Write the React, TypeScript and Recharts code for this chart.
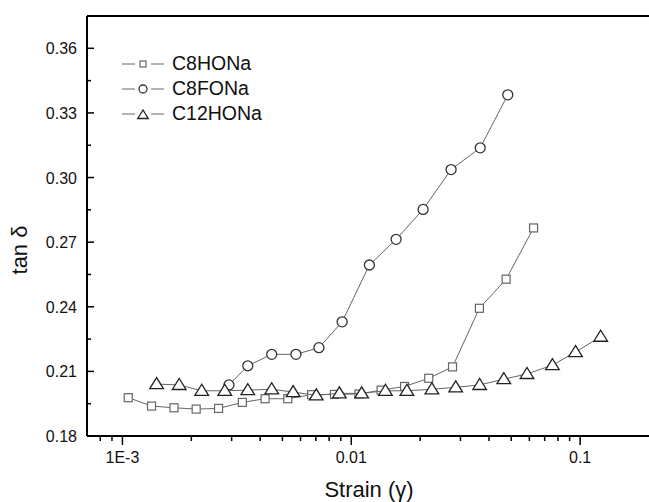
import { ReferenceLine, Scatter, ScatterChart, XAxis, YAxis } from "recharts";

// strain (γ) and tan δ
const c8hStrain = [0.00106, 0.00134, 0.00168, 0.0021, 0.00263, 0.00334, 0.0042, 0.00528, 0.00671, 0.00844, 0.0108, 0.0135, 0.0171, 0.0218, 0.0277, 0.0363, 0.0475, 0.0626];
const c8hTan = [0.1978, 0.1939, 0.1931, 0.1925, 0.1928, 0.1956, 0.1973, 0.1973, 0.1992, 0.1993, 0.1995, 0.2013, 0.203, 0.2068, 0.2121, 0.2393, 0.2528, 0.2766];

const c8fStrain = [0.00292, 0.00353, 0.00449, 0.00573, 0.00722, 0.00912, 0.012, 0.0157, 0.0206, 0.0273, 0.0366, 0.0483];
const c8fTan = [0.2037, 0.2126, 0.2179, 0.2179, 0.221, 0.233, 0.2594, 0.2713, 0.2852, 0.3037, 0.3138, 0.3384];

const c12Strain = [0.00141, 0.00177, 0.00222, 0.0028, 0.00353, 0.00449, 0.00557, 0.00703, 0.00887, 0.0111, 0.0141, 0.0175, 0.0225, 0.0286, 0.0364, 0.0464, 0.0586, 0.0757, 0.0955, 0.123];
const c12Tan = [0.2041, 0.2037, 0.201, 0.201, 0.2013, 0.2017, 0.2004, 0.1989, 0.1998, 0.1998, 0.201, 0.201, 0.2017, 0.2026, 0.2037, 0.2064, 0.2088, 0.2129, 0.219, 0.2261];

const xMajor = [0.001, 0.01, 0.1];
const xLabels = ["1E-3", "0.01", "0.1"];
const xTicks = [0.0008, 0.0009, 0.001, 0.002, 0.003, 0.004, 0.005, 0.006, 0.007, 0.008, 0.009, 0.01, 0.02, 0.03, 0.04, 0.05, 0.06, 0.07, 0.08, 0.09, 0.1];
const yMajor = [0.18, 0.21, 0.24, 0.27, 0.3, 0.33, 0.36];
const yTicks = [0.18, 0.195, 0.21, 0.225, 0.24, 0.255, 0.27, 0.285, 0.3, 0.315, 0.33, 0.345, 0.36];

const seriesNames = ["C8HONa", "C8FONa", "C12HONa"];

const zip = (xs: number[], ys: number[]) => xs.map((x, i) => ({ x, y: ys[i] }));
const c8hData = zip(c8hStrain, c8hTan);
const c8fData = zip(c8fStrain, c8fTan);
const c12Data = zip(c12Strain, c12Tan);

const FONT = "'Liberation Sans', Arial, sans-serif";
const LINE = "#666";

const Square = ({ cx, cy, s = 8 }: any) => (
  <rect x={cx - s / 2} y={cy - s / 2} width={s} height={s} fill="#fff" stroke="#666" strokeWidth={1.2} />
);
const Circle = ({ cx, cy, r = 5 }: any) => (
  <circle cx={cx} cy={cy} r={r} fill="#fff" stroke="#333" strokeWidth={1.3} />
);
const Triangle = ({ cx, cy, s = 6.5 }: any) => (
  <polygon
    points={`${cx},${cy - s} ${cx - s * 1.05},${cy + s * 0.7} ${cx + s * 1.05},${cy + s * 0.7}`}
    fill="#fff"
    stroke="#222"
    strokeWidth={1.3}
  />
);

const XTick = ({ x, y, payload }: any) => {
  const i = xMajor.findIndex((v) => Math.abs(v - payload.value) < 1e-9);
  const major = i >= 0;
  return (
    <g>
      <line x1={x} x2={x} y1={y} y2={y + (major ? 9 : 5)} stroke="#000" strokeWidth={1.5} />
      {major && (
        <text x={x} y={y + 27} textAnchor="middle" fontSize={16} fontFamily={FONT} fill="#111">
          {xLabels[i]}
        </text>
      )}
    </g>
  );
};

const YTick = ({ x, y, payload }: any) => {
  const major = yMajor.some((v) => Math.abs(v - payload.value) < 1e-9);
  return (
    <g>
      <line x1={x} x2={x + (major ? 7 : 4)} y1={y} y2={y} stroke="#000" strokeWidth={1.5} />
      {major && (
        <text x={x - 10} y={y + 6} textAnchor="end" fontSize={16} fontFamily={FONT} fill="#111">
          {payload.value.toFixed(2)}
        </text>
      )}
    </g>
  );
};

const legendMarkers = [
  <Square cx={21} cy={9} s={6} />,
  <Circle cx={21} cy={9} r={4} />,
  <Triangle cx={21} cy={10} s={5} />,
];

export default function App() {
  return (
    <div style={{ position: "relative", width: 649, height: 502, background: "#fff" }}>
      <style>{"body{margin:0}"}</style>
      <ScatterChart width={649} height={502} margin={{ top: 16, right: 0, bottom: 0, left: 0 }}>
        <XAxis
          dataKey="x"
          type="number"
          scale="log"
          domain={[0.0007, 0.2]}
          allowDataOverflow
          ticks={xTicks}
          tick={<XTick />}
          tickLine={false}
          tickSize={0}
          tickMargin={0}
          axisLine={{ stroke: "#000", strokeWidth: 2 }}
          height={66}
          interval={0}
        />
        <YAxis
          dataKey="y"
          type="number"
          domain={[0.18, 0.375]}
          allowDataOverflow
          ticks={yTicks}
          tick={<YTick />}
          tickLine={false}
          tickSize={0}
          tickMargin={0}
          axisLine={{ stroke: "#000", strokeWidth: 2 }}
          width={87}
          interval={0}
        />
        <ReferenceLine y={0.375} stroke="#000" strokeWidth={2} ifOverflow="visible" />
        <Scatter
          name={seriesNames[0]}
          data={c8hData}
          line={{ stroke: LINE, strokeWidth: 1 }}
          lineType="joint"
          shape={(p: any) => <Square cx={p.cx} cy={p.cy} />}
          isAnimationActive={false}
        />
        <Scatter
          name={seriesNames[1]}
          data={c8fData}
          line={{ stroke: LINE, strokeWidth: 1 }}
          lineType="joint"
          shape={(p: any) => <Circle cx={p.cx} cy={p.cy} />}
          isAnimationActive={false}
        />
        <Scatter
          name={seriesNames[2]}
          data={c12Data}
          line={{ stroke: LINE, strokeWidth: 1 }}
          lineType="joint"
          shape={(p: any) => <Triangle cx={p.cx} cy={p.cy} />}
          isAnimationActive={false}
        />
      </ScatterChart>

      {/* legend in the upper-left corner of the plot */}
      <div style={{ position: "absolute", left: 122, top: 51, fontFamily: FONT, fontSize: 19.5, color: "#111" }}>
        {seriesNames.map((name, i) => (
          <div key={name} style={{ display: "flex", alignItems: "center", height: 25 }}>
            <svg width={44} height={18} style={{ marginRight: 6 }}>
              <line x1={0} x2={13} y1={9} y2={9} stroke={LINE} strokeWidth={1} />
              <line x1={29} x2={42} y1={9} y2={9} stroke={LINE} strokeWidth={1} />
              {legendMarkers[i]}
            </svg>
            <span>{name}</span>
          </div>
        ))}
      </div>

      {/* axis titles */}
      <div
        style={{
          position: "absolute",
          left: 20,
          top: 250,
          transform: "translate(-50%, -50%) rotate(-90deg)",
          fontFamily: FONT,
          fontSize: 22,
          whiteSpace: "nowrap",
          color: "#111",
        }}
      >
        tan δ
      </div>
      <div
        style={{
          position: "absolute",
          left: 369,
          top: 490,
          transform: "translate(-50%, -50%)",
          fontFamily: FONT,
          fontSize: 22,
          whiteSpace: "nowrap",
          color: "#111",
        }}
      >
        Strain (γ)
      </div>
    </div>
  );
}
